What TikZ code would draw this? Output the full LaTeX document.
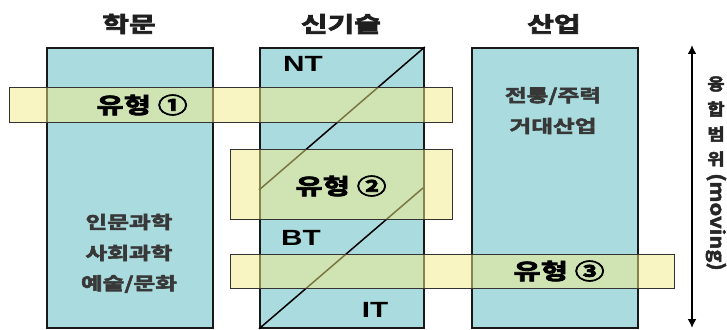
\documentclass[tikz,border=0pt]{standalone}
\usepackage{fontspec}
\usetikzlibrary{arrows.meta}
\newfontfamily\kr{Noto Sans CJK KR Bold}[FakeStretch=1.35]
\newfontfamily\krs{Noto Sans CJK KR Bold}[FakeStretch=1.15]
\newfontfamily\lat{Liberation Sans}[FakeStretch=1.35]
\newcommand\heavy[2][0.8]{\special{pdf:literal direct #1 w 2 Tr}#2\special{pdf:literal direct 0 Tr}}
\definecolor{boxblue}{RGB}{170,219,222}
\definecolor{bandyel}{RGB}{245,237,135}
\begin{document}
\begin{tikzpicture}[x=1pt,y=-1pt,
  col/.style={draw=black!90, line width=1.8pt, fill=boxblue, anchor=north west, inner sep=0pt},
  band/.style={draw=black!80, line width=0.9pt, fill=bandyel, fill opacity=0.5, anchor=north west, inner sep=0pt},
  hdr/.style={font=\kr\fontsize{21.5}{21.5}\selectfont, text=black!88},
  typ/.style={font=\kr\fontsize{22}{22}\selectfont, text=black},
  body/.style={font=\kr\fontsize{17.5}{17.5}\selectfont, text=black!78},
  tech/.style={font=\lat\bfseries\fontsize{22}{22}\selectfont, text=black},
  diag/.style={draw=black, line width=1.5pt},
  side/.style={font=\krs\fontsize{16.5}{16.5}\selectfont, text=black!85},
  sidelat/.style={font=\krs\fontsize{19}{19}\selectfont, text=black!85}
]
\useasboundingbox (0,0) rectangle (727,329);
\fill[white] (0,0) rectangle (727,329);

% column boxes
\node[col, minimum width=166pt, minimum height=280pt] (hak) at (46,47) {};
\node[col, minimum width=164pt, minimum height=280pt] (sin) at (259,47) {};
\node[col, minimum width=166pt, minimum height=280pt] (san) at (471,47) {};

% headers
\node[hdr] (h1) at (129,24) {\heavy{학문}};
\node[hdr] (h2) at (341,24) {\heavy{신기술}};
\node[hdr] (h3) at (554,24) {\heavy{산업}};

% diagonals in the new-technology box
\coordinate (d1) at (259,190);
\coordinate (d2) at (423,188);
\draw[diag] (sin.north east) -- (d1);
\draw[diag] (sin.south west) -- (d2);

% technology labels
\node[tech] (nt) at (303,64) {NT};
\node[tech] (bt) at (301,238) {BT};
\node[tech] (it) at (375,310) {IT};

% box texts
\node[body] (l1) at (129,222) {\heavy[0.6]{인문과학}};
\node[body] (l2) at (129,253) {\heavy[0.6]{사회과학}};
\node[body] (l3) at (129,284) {\heavy[0.6]{예술/문화}};
\node[body] (r1) at (553,96) {\heavy[0.6]{전통/주력}};
\node[body] (r2) at (553,126) {\heavy[0.6]{거대산업}};

% bands
\node[band, minimum width=443pt, minimum height=35pt] (b1) at (9,87) {};
\node[band, minimum width=222pt, minimum height=70pt] (b2) at (230,149) {};
\node[band, minimum width=444pt, minimum height=34pt] (b3) at (230,254) {};

\node[typ] (t1) at (142,105) {\heavy{유형 ①}};
\node[typ] (t2) at (341,186) {\heavy{유형 ②}};
\node[typ] (t3) at (559,271) {\heavy{유형 ③}};

% range arrow
\coordinate (at) at (692,45);
\coordinate (ab) at (692,328);
\draw[line width=2pt, {Latex[length=9pt,width=9pt]}-{Latex[length=9pt,width=9pt]}] (at) -- (ab);

\node[side] (v1) at (716,84) {\heavy[0.5]{융}};
\node[side] (v2) at (716,109) {\heavy[0.5]{합}};
\node[side] (v3) at (716,134) {\heavy[0.5]{범}};
\node[side] (v4) at (716,159) {\heavy[0.5]{위}};
\node[sidelat, rotate=-90] (v5) at (716,222) {\heavy[0.5]{(moving)}};
\end{tikzpicture}
\end{document}
